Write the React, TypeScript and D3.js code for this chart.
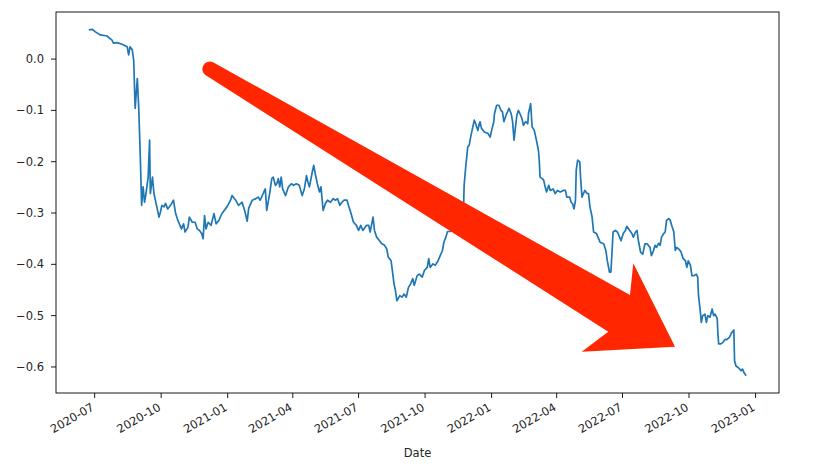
import React from "react";
import * as d3 from "d3";

const DATES: string[] = [
  "2020-06-23","2020-06-28","2020-07-02","2020-07-09","2020-07-18","2020-07-25","2020-07-27","2020-08-01","2020-08-08","2020-08-15",
  "2020-08-17","2020-08-19","2020-08-22","2020-08-24","2020-08-26","2020-08-29","2020-08-31","2020-09-02","2020-09-04","2020-09-06",
  "2020-09-08","2020-09-10","2020-09-13","2020-09-15","2020-09-16","2020-09-19","2020-09-21","2020-09-23","2020-09-25","2020-09-28",
  "2020-09-30","2020-10-02","2020-10-05","2020-10-07","2020-10-10","2020-10-14","2020-10-18","2020-10-21","2020-10-24","2020-10-27",
  "2020-10-29","2020-11-01","2020-11-03","2020-11-07","2020-11-09","2020-11-13","2020-11-17","2020-11-20","2020-11-23","2020-11-26",
  "2020-11-28","2020-11-30","2020-12-02","2020-12-05","2020-12-09","2020-12-13","2020-12-16","2020-12-20","2020-12-24","2020-12-31",
  "2021-01-05","2021-01-07","2021-01-12","2021-01-16","2021-01-21","2021-01-25","2021-01-28","2021-01-30","2021-02-04","2021-02-09",
  "2021-02-12","2021-02-15","2021-02-20","2021-02-22","2021-02-24","2021-02-28","2021-03-03","2021-03-05","2021-03-08","2021-03-10",
  "2021-03-12","2021-03-14","2021-03-16","2021-03-18","2021-03-22","2021-03-26","2021-03-30","2021-04-02","2021-04-06","2021-04-10",
  "2021-04-14","2021-04-17","2021-04-20","2021-04-22","2021-04-24","2021-04-28","2021-04-30","2021-05-02","2021-05-05","2021-05-08",
  "2021-05-10","2021-05-13","2021-05-16","2021-05-19","2021-05-23","2021-05-27","2021-05-30","2021-06-02","2021-06-05","2021-06-08",
  "2021-06-11","2021-06-15","2021-06-17","2021-06-20","2021-06-24","2021-06-28","2021-07-01","2021-07-04","2021-07-07","2021-07-12",
  "2021-07-15","2021-07-17","2021-07-21","2021-07-23","2021-07-26","2021-07-30","2021-08-02","2021-08-06","2021-08-09","2021-08-11",
  "2021-08-15","2021-08-17","2021-08-19","2021-08-21","2021-08-23","2021-08-27","2021-08-30","2021-09-02","2021-09-05","2021-09-08",
  "2021-09-11","2021-09-14","2021-09-16","2021-09-20","2021-09-23","2021-09-27","2021-09-30","2021-10-04","2021-10-06","2021-10-08",
  "2021-10-12","2021-10-15","2021-10-19","2021-10-21","2021-10-25","2021-10-27","2021-10-30","2021-11-01","2021-11-05","2021-11-10",
  "2021-11-15","2021-11-19","2021-11-23","2021-11-24","2021-11-26","2021-11-29","2021-12-01","2021-12-03","2021-12-06","2021-12-08",
  "2021-12-10","2021-12-13","2021-12-15","2021-12-16","2021-12-18","2021-12-22","2021-12-27","2021-12-30","2022-01-01","2022-01-04",
  "2022-01-05","2022-01-08","2022-01-11","2022-01-14","2022-01-16","2022-01-18","2022-01-21","2022-01-23","2022-01-25","2022-01-28",
  "2022-01-30","2022-02-01","2022-02-03","2022-02-05","2022-02-07","2022-02-10","2022-02-12","2022-02-14","2022-02-17","2022-02-20",
  "2022-02-21","2022-02-24","2022-02-26","2022-03-01","2022-03-05","2022-03-07","2022-03-08","2022-03-09","2022-03-12","2022-03-14",
  "2022-03-16","2022-03-18","2022-03-21","2022-03-23","2022-03-27","2022-03-30","2022-04-02","2022-04-06","2022-04-10","2022-04-13",
  "2022-04-15","2022-04-19","2022-04-21","2022-04-23","2022-04-25","2022-04-27","2022-04-28","2022-04-30","2022-05-03","2022-05-04",
  "2022-05-06","2022-05-08","2022-05-10","2022-05-13","2022-05-15","2022-05-17","2022-05-20","2022-05-22","2022-05-26","2022-05-29",
  "2022-05-31","2022-06-05","2022-06-08","2022-06-10","2022-06-13","2022-06-15","2022-06-18","2022-06-21","2022-06-24","2022-06-27",
  "2022-06-29","2022-07-02","2022-07-05","2022-07-07","2022-07-11","2022-07-14","2022-07-16","2022-07-19","2022-07-21","2022-07-23",
  "2022-07-26","2022-07-29","2022-08-01","2022-08-04","2022-08-08","2022-08-10","2022-08-13","2022-08-15","2022-08-17","2022-08-20",
  "2022-08-22","2022-08-24","2022-08-27","2022-08-29","2022-08-31","2022-09-03","2022-09-05","2022-09-07","2022-09-10","2022-09-12",
  "2022-09-14","2022-09-18","2022-09-20","2022-09-23","2022-09-26","2022-09-28","2022-09-30","2022-10-03","2022-10-05","2022-10-08",
  "2022-10-11","2022-10-13","2022-10-14","2022-10-17","2022-10-18","2022-10-20","2022-10-23","2022-10-25","2022-10-27","2022-10-30",
  "2022-11-02","2022-11-04","2022-11-06","2022-11-09","2022-11-10","2022-11-11","2022-11-14","2022-11-17","2022-11-20","2022-11-22",
  "2022-11-26","2022-11-29","2022-12-02","2022-12-03","2022-12-05","2022-12-08","2022-12-12","2022-12-14","2022-12-16","2022-12-19",
];

const VALUES: number[] = [
  0.057,0.058,0.053,0.047,0.045,0.037,0.031,0.032,0.029,0.024,
  0.008,0.024,0.018,-0.002,-0.096,-0.038,-0.096,-0.184,-0.285,-0.249,
  -0.279,-0.262,-0.230,-0.158,-0.262,-0.230,-0.262,-0.275,-0.288,-0.308,
  -0.298,-0.285,-0.288,-0.281,-0.292,-0.285,-0.275,-0.301,-0.314,-0.324,
  -0.331,-0.321,-0.337,-0.328,-0.308,-0.318,-0.318,-0.331,-0.334,-0.340,
  -0.350,-0.305,-0.331,-0.318,-0.324,-0.301,-0.321,-0.314,-0.301,-0.288,
  -0.275,-0.266,-0.275,-0.285,-0.279,-0.298,-0.316,-0.291,-0.275,-0.272,
  -0.269,-0.275,-0.259,-0.253,-0.295,-0.262,-0.233,-0.230,-0.246,-0.243,
  -0.233,-0.249,-0.230,-0.253,-0.266,-0.249,-0.243,-0.246,-0.243,-0.246,
  -0.266,-0.253,-0.227,-0.240,-0.249,-0.220,-0.207,-0.223,-0.243,-0.259,
  -0.249,-0.295,-0.282,-0.275,-0.279,-0.272,-0.275,-0.272,-0.285,-0.279,
  -0.275,-0.275,-0.285,-0.298,-0.318,-0.324,-0.334,-0.324,-0.334,-0.324,
  -0.324,-0.337,-0.308,-0.334,-0.347,-0.354,-0.360,-0.363,-0.370,-0.386,
  -0.393,-0.415,-0.438,-0.451,-0.471,-0.461,-0.464,-0.458,-0.464,-0.445,
  -0.438,-0.428,-0.441,-0.422,-0.419,-0.425,-0.412,-0.406,-0.389,-0.406,
  -0.399,-0.402,-0.393,-0.386,-0.373,-0.357,-0.346,-0.336,-0.336,-0.328,
  -0.321,-0.314,-0.301,-0.246,-0.213,-0.171,-0.168,-0.152,-0.132,-0.119,
  -0.126,-0.139,-0.126,-0.122,-0.135,-0.142,-0.145,-0.152,-0.139,-0.122,
  -0.106,-0.090,-0.090,-0.100,-0.103,-0.122,-0.109,-0.103,-0.096,-0.106,
  -0.122,-0.158,-0.132,-0.109,-0.100,-0.109,-0.116,-0.129,-0.122,-0.126,
  -0.106,-0.087,-0.132,-0.139,-0.165,-0.181,-0.201,-0.230,-0.233,-0.236,
  -0.249,-0.259,-0.246,-0.256,-0.253,-0.262,-0.256,-0.259,-0.256,-0.256,
  -0.269,-0.269,-0.279,-0.282,-0.292,-0.275,-0.217,-0.197,-0.201,-0.230,
  -0.269,-0.262,-0.256,-0.262,-0.262,-0.288,-0.308,-0.337,-0.340,-0.350,
  -0.357,-0.360,-0.373,-0.393,-0.415,-0.415,-0.337,-0.334,-0.337,-0.347,
  -0.354,-0.340,-0.334,-0.326,-0.334,-0.340,-0.347,-0.337,-0.334,-0.354,
  -0.376,-0.380,-0.360,-0.360,-0.367,-0.383,-0.373,-0.363,-0.367,-0.359,
  -0.363,-0.347,-0.340,-0.337,-0.314,-0.311,-0.314,-0.324,-0.337,-0.373,
  -0.367,-0.372,-0.376,-0.389,-0.393,-0.406,-0.393,-0.402,-0.422,-0.422,
  -0.419,-0.425,-0.458,-0.497,-0.513,-0.500,-0.497,-0.513,-0.500,-0.503,
  -0.487,-0.500,-0.497,-0.506,-0.536,-0.555,-0.555,-0.552,-0.546,-0.547,
  -0.542,-0.533,-0.528,-0.588,-0.598,-0.601,-0.607,-0.604,-0.611,-0.617,
];

const X_TICKS: string[] = [
  "2020-07","2020-10","2021-01","2021-04","2021-07","2021-10",
  "2022-01","2022-04","2022-07","2022-10","2023-01",
];
const Y_TICKS: number[] = [0, -0.1, -0.2, -0.3, -0.4, -0.5, -0.6];
const X_LABEL = "Date";

// Red annotation arrow (drawn over the chart), in pixel space
const ARROW_PATH =
  "M 212.6 61.9 L 630 295 L 633.3 263.3 L 675 346.7 L 581.7 351.7 L 608.3 331.7 L 205.4 75.1 A 7.6 7.6 0 0 1 212.6 61.9 Z";

export default function App() {
  const W = 830;
  const H = 468;
  const left = 56, right = 779, top = 12, bottom = 393;
  const font = "'DejaVu Sans', sans-serif";
  const fs = 11.5;
  const textColor = "#262626";

  const parse = d3.utcParse("%Y-%m-%d");
  const parseM = d3.utcParse("%Y-%m");
  const data = DATES.map((d, i) => ({ date: parse(d) as Date, value: VALUES[i] }));

  const [dx0, dx1] = d3.extent(data, (d) => d.date) as [Date, Date];
  const span = +dx1 - +dx0;
  const x = d3
    .scaleUtc()
    .domain([new Date(+dx0 - 0.05 * span), new Date(+dx1 + 0.05 * span)])
    .range([left, right]);

  const [vy0, vy1] = d3.extent(data, (d) => d.value) as [number, number];
  const vspan = vy1 - vy0;
  const y = d3
    .scaleLinear()
    .domain([vy0 - 0.05 * vspan, vy1 + 0.05 * vspan])
    .range([bottom, top]);

  const line = d3
    .line<{ date: Date; value: number }>()
    .x((d) => x(d.date))
    .y((d) => y(d.value));

  const fmtY = (v: number) => d3.format(".1f")(v).replace("-", "\u2212");

  return (
    <svg
      width={W}
      height={H}
      style={{ position: "absolute", left: 0, top: 0, background: "#fff" }}
      fontFamily={font}
    >
      <rect x={0} y={0} width={W} height={H} fill="#fff" />
      <path d={line(data) || ""} fill="none" stroke="#1f77b4" strokeWidth={1.7} strokeLinejoin="round" />
      <rect x={left} y={top} width={right - left} height={bottom - top} fill="none" stroke="#000" strokeWidth={0.9} />
      {Y_TICKS.map((t) => (
        <g key={t} transform={`translate(0,${y(t)})`}>
          <line x1={left - 5} x2={left} stroke="#000" strokeWidth={0.9} />
          <text x={left - 12} dy="0.35em" textAnchor="end" fontSize={fs} fill={textColor}>
            {fmtY(t)}
          </text>
        </g>
      ))}
      {X_TICKS.map((t) => {
        const px = x(parseM(t) as Date);
        return (
          <g key={t}>
            <line x1={px} x2={px} y1={bottom} y2={bottom + 5} stroke="#000" strokeWidth={0.9} />
            <text
              transform={`translate(${px - 4},${bottom + 9}) rotate(-30)`}
              textAnchor="end"
              dy="0.75em"
              fontSize={fs}
              fill={textColor}
            >
              {t}
            </text>
          </g>
        );
      })}
      <text x={(left + right) / 2} y={457} textAnchor="middle" fontSize={fs} fill={textColor}>
        {X_LABEL}
      </text>
      <path d={ARROW_PATH} fill="#ff2600" />
    </svg>
  );
}
